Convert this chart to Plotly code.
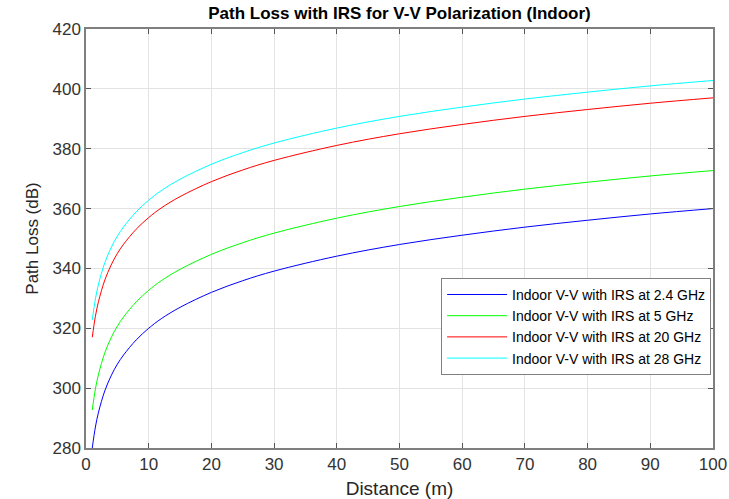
import plotly.graph_objects as go

distance_m = [1, 1.5, 2, 3, 4, 5, 6, 8, 10, 12, 15, 20, 25, 30, 40, 50, 60, 70, 80, 90, 100]

pl_2_4ghz = [280.0, 287.0, 292.0, 299.1, 304.1, 308.0, 311.1, 316.1, 320.0, 323.2, 327.0, 332.0,
             335.9, 339.1, 344.1, 348.0, 351.1, 353.8, 356.1, 358.2, 360.0]
pl_5ghz = [292.7, 299.7, 304.7, 311.8, 316.8, 320.7, 323.8, 328.8, 332.7, 335.9, 339.7, 344.7,
           348.6, 351.8, 356.8, 360.7, 363.8, 366.5, 368.8, 370.9, 372.7]
pl_20ghz = [317.0, 324.0, 329.0, 336.1, 341.1, 345.0, 348.1, 353.1, 357.0, 360.2, 364.0, 369.0,
            372.9, 376.1, 381.1, 385.0, 388.1, 390.8, 393.1, 395.2, 397.0]
pl_28ghz = [322.8, 329.8, 334.8, 341.9, 346.9, 350.8, 353.9, 358.9, 362.8, 366.0, 369.8, 374.8,
            378.7, 381.9, 386.9, 390.8, 393.9, 396.6, 398.9, 401.0, 402.8]

series_names = [
    "Indoor V-V with IRS at 2.4 GHz",
    "Indoor V-V with IRS at 5 GHz",
    "Indoor V-V with IRS at 20 GHz",
    "Indoor V-V with IRS at 28 GHz",
]
series_values = [pl_2_4ghz, pl_5ghz, pl_20ghz, pl_28ghz]
series_colors = ["#0000FF", "#00FF00", "#FF0000", "#00FFFF"]

x_ticks = [0, 10, 20, 30, 40, 50, 60, 70, 80, 90, 100]
y_ticks = [280, 300, 320, 340, 360, 380, 400, 420]

font_family = "Liberation Sans, Arial, sans-serif"

fig = go.Figure()
for name, vals, col in zip(series_names, series_values, series_colors):
    fig.add_trace(go.Scatter(
        x=distance_m, y=vals, mode="lines", name=name,
        line=dict(color=col, width=1, shape="spline", smoothing=1.0),
    ))

axis_common = dict(
    showgrid=True, gridcolor="#E3E3E3", gridwidth=1,
    showline=True, linecolor="#7F7F7F", linewidth=1.5, mirror="ticks",
    ticks="inside", ticklen=5, tickcolor="#555555",
    tickfont=dict(family=font_family, size=17, color="#333333"),
    zeroline=False, automargin=False,
)

fig.update_layout(
    width=729, height=499,
    margin=dict(l=86, r=16, t=29, b=51),
    paper_bgcolor="white", plot_bgcolor="white",
    font=dict(family=font_family, color="#262626"),
    title=dict(
        text="<b>Path Loss with IRS for V-V Polarization (Indoor)</b>",
        x=(86 + 713) / 2 / 729, xanchor="center", y=1 - 13 / 499, yanchor="middle",
        font=dict(family=font_family, size=17, color="#000000"),
    ),
    xaxis=dict(
        range=[0, 100], tickvals=x_ticks,
        title=dict(text="Distance (m)", font=dict(family=font_family, size=19, color="#262626"), standoff=10),
        **axis_common,
    ),
    yaxis=dict(
        range=[280, 420], tickvals=y_ticks,
        title=dict(text="Path Loss (dB)", font=dict(family=font_family, size=17, color="#262626"), standoff=10),
        **axis_common,
    ),
    legend=dict(
        x=0.997, y=0.406, xanchor="right", yanchor="top",
        bgcolor="white", bordercolor="#7F7F7F", borderwidth=1,
        font=dict(family=font_family, size=14, color="#000000"),
        tracegroupgap=0, itemwidth=60, entrywidth=240, entrywidthmode="pixels",
    ),
    showlegend=True,
)

fig.write_html("out.html")
